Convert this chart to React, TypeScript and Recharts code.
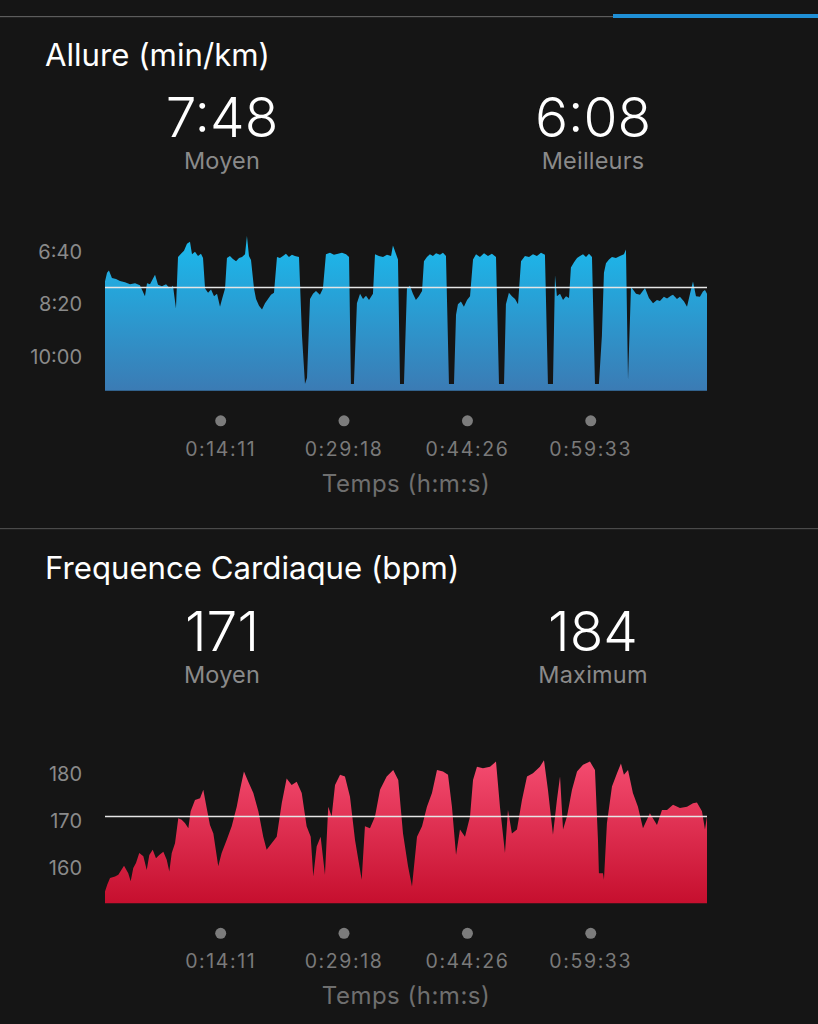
import { AreaChart, Area, XAxis, YAxis, ReferenceLine } from 'recharts'

const FONT = 'Inter, Roboto, "Liberation Sans", sans-serif'

// pace in seconds per km, sampled along elapsed time (s)
const paceTime = [
  0, 15, 29, 51, 81, 110, 147, 184, 221, 257, 294, 309, 331, 368, 390, 419, 449, 478, 500, 522,
  537, 559, 581, 603, 625, 640, 662, 684, 706, 721,
  736, 758, 780, 802, 824, 846, 861, 883,
  897, 919, 941, 964, 986, 1008, 1030, 1044, 1059, 1074,
  1096, 1111, 1133, 1155, 1177, 1199, 1221, 1243,
  1265, 1287, 1309, 1331, 1353, 1375, 1397, 1427,
  1449, 1471, 1486,
  1508, 1530, 1552, 1581, 1603,
  1625, 1655, 1684, 1714, 1743, 1773, 1795,
  1809, 1831,
  1853, 1876, 1898, 1920, 1942, 1971,
  1986, 2015, 2045, 2074, 2104, 2118, 2140, 2155,
  2170, 2199,
  2221, 2243, 2265, 2287, 2309, 2332,
  2346, 2368, 2390, 2412, 2435, 2464, 2486, 2508,
  2530, 2567,
  2582, 2596, 2618, 2640, 2663, 2685,
  2707, 2729, 2758, 2788, 2817, 2846, 2876,
  2898, 2935,
  2949, 2971, 2993, 3016, 3038,
  3060, 3089, 3119, 3148, 3177, 3207, 3236,
  3258, 3295,
  3310, 3324, 3347, 3369, 3391, 3413,
  3427, 3450, 3472, 3494, 3516, 3538, 3560, 3582,
  3604, 3633, 3655, 3670,
  3685, 3707, 3729, 3758, 3788, 3817, 3832,
  3847,
  3869, 3906, 3935, 3972, 4001, 4031, 4060, 4082, 4111, 4134, 4163, 4178, 4207, 4229, 4259, 4281,
  4303, 4325, 4347, 4376, 4398, 4413, 4428,
]
const paceValues = [
  457, 440, 436, 450, 452, 456, 458, 462, 460, 464, 485, 460, 462, 444, 463, 466, 462, 470, 465, 508,
  410, 404, 398, 385, 381, 405, 400, 408, 404, 412,
  470, 478, 472, 485, 480, 505, 490, 470,
  412, 408, 414, 418, 412, 410, 405, 370, 408, 416,
  470, 490, 503, 510, 498, 490, 482, 478,
  410, 412, 408, 404, 410, 406, 408, 410,
  560, 652, 640,
  490, 480, 475, 482, 470,
  405, 402, 406, 404, 402, 405, 410,
  652, 652,
  498, 480, 490, 484, 492, 480,
  405, 408, 410, 406, 408, 388, 404, 415,
  652, 652,
  470, 465, 480, 492, 485, 475,
  418, 410, 405, 408, 403, 406, 402, 408,
  652, 652,
  520, 500, 495, 505, 492, 485,
  415, 405, 410, 403, 408, 404, 410,
  652, 652,
  500, 478, 485, 490, 500,
  418, 408, 410, 405, 408, 402, 406,
  652, 652,
  445, 485, 480, 492, 485, 488,
  430, 420, 412, 408, 405, 410, 404, 410,
  652, 652, 560, 440,
  422, 415, 410, 412, 408, 405, 396,
  645,
  467, 480, 482, 469, 488, 498, 492, 494, 486, 489, 484, 482, 490, 486, 495, 505,
  480, 457, 485, 486, 476, 473, 480,
]

// heart rate in bpm
const hrTime = [
  0, 17, 37, 74, 98, 140, 171, 189, 208, 228, 252, 282, 307, 326, 351, 375, 399, 429, 454, 473,
  491, 515, 539, 564, 588, 613, 630, 662, 699, 723, 748, 772, 797, 833, 858, 895, 932, 969, 993, 1022,
  1054, 1091, 1128, 1164, 1189, 1226, 1263, 1300, 1336, 1373, 1410, 1447, 1483, 1513, 1532, 1557, 1586,
  1618, 1642, 1667, 1692, 1729, 1765, 1802, 1839, 1888, 1912, 1949, 1986, 2023, 2072, 2120, 2157,
  2192, 2229, 2258, 2295, 2332, 2368, 2405, 2442, 2486, 2523, 2552, 2582, 2611, 2648, 2685, 2707,
  2736, 2780, 2832, 2876, 2905, 2942, 2964, 2993, 3030, 3067, 3104, 3148, 3199, 3229, 3258, 3295,
  3324, 3347, 3369, 3398, 3435, 3472, 3516, 3567, 3604, 3626, 3633, 3663, 3670, 3692, 3729, 3766,
  3795, 3817, 3847, 3883, 3920, 3957, 4008, 4060, 4097, 4134, 4178, 4229, 4281, 4325, 4354, 4391,
  4413, 4428,
]
const hrValues = [
  155, 156.5, 157.9, 158.2, 158.6, 160.5, 158.9, 157.2, 160, 161.1, 163.2, 162.5, 159.6, 162.8, 163.9,
  162.1, 162.8, 163.5, 161.8, 159.3, 163.2, 165.3, 170.6, 170.3, 169.6, 168.5, 172.1, 174.5, 174.9,
  176.7, 172.8, 169.2, 167.4, 160.4, 163.2, 166, 168.9, 173.1, 176.7, 180.6, 178.4, 176, 172.1, 166.7,
  163.9, 165.3, 166.7, 173.8, 179.1, 177.7, 178.4, 176, 168.9, 166.7, 158.2, 164.6, 166.7, 158.6,
  173.1, 171, 177.7, 179.9, 179.5, 175.2, 166, 157.5, 168.9, 168.5, 171, 176.7, 179.5, 180.9, 178.8,
  167.4, 160.4, 156.1, 166.7, 168.9, 173.1, 176, 180.9, 180.6, 179.9, 173.1, 162.8, 168.2, 166.7, 171,
  178.8, 181.6, 181.3, 181.6, 182.7, 173.1, 163.2, 172.4, 167.4, 168.2, 174.5, 179.5, 180.2, 181.6,
  183, 176.7, 167.1, 174.5, 179.5, 168.2, 171, 176.7, 180.6, 182, 182.7, 180.9, 166, 158.9, 158.9,
  157.5, 169.6, 177.4, 180.2, 182.3, 179.9, 180.9, 176, 173.1, 168.5, 171.7, 169.2, 172.4, 172.4,
  173.5, 172.8, 173.1, 173.8, 174, 172.1, 168.2, 171,
]

const timeTicks = [851, 1758, 2666, 3573]
const paceTicks = [400, 500, 600]
const hrTicks = [160, 170, 180]
const PACE_AVG = 468
const HR_AVG = 171

const paceData = paceTime.map((t, i) => ({ t, pace: paceValues[i] }))
const hrData = hrTime.map((t, i) => ({ t, hr: hrValues[i] }))

const pad = (n: number) => String(n).padStart(2, '0')
const fmtPace = (v: number) => `${Math.floor(v / 60)}:${pad(v % 60)}`
const fmtTime = (v: number) => `${Math.floor(v / 3600)}:${pad(Math.floor((v % 3600) / 60))}:${pad(v % 60)}`

const TimeTick = (props: any) => {
  const { x, y, payload } = props
  return (
    <g>
      <circle cx={x} cy={y + 22} r={5.5} fill="#7c7c7c" />
      <text x={x} y={y + 57} textAnchor="middle" fill="#7a7a7a" fontSize={19.5} letterSpacing={1.6}>
        {fmtTime(payload.value)}
      </text>
    </g>
  )
}

const axisLabel = { value: 'Temps (h:m:s)', position: 'insideBottom' as const, offset: 9, fill: '#6f6f6f', fontSize: 24, letterSpacing: 0.5 }

function Stat({ x, y, value, label }: { x: number; y: number; value: string; label: string }) {
  return (
    <g textAnchor="middle">
      <text x={x} y={y} fill="#ffffff" fontSize={55} fontWeight={300}>{value}</text>
      <text x={x} y={y + 32} fill="#8a8a8a" fontSize={23.5} letterSpacing={0.2}>{label}</text>
    </g>
  )
}

export default function App() {
  return (
    <div style={{ position: 'absolute', left: 0, top: 0, width: 818, height: 1024, background: '#151515', overflow: 'hidden', fontFamily: FONT }}>
      <svg width={818} height={1024} style={{ position: 'absolute', left: 0, top: 0 }} fontFamily={FONT}>
        <rect x={0} y={16} width={613} height={1.2} fill="#5c5c5c" />
        <rect x={613} y={14} width={205} height={4} fill="#1f8fd6" />
        <rect x={0} y={528} width={818} height={1.2} fill="#4a4a4a" />

        <text x={45} y={66} fill="#ffffff" fontSize={31.2}>Allure (min/km)</text>
        <Stat x={222} y={137} value="7:48" label="Moyen" />
        <Stat x={593} y={137} value="6:08" label="Meilleurs" />

        <text x={45} y={579} fill="#ffffff" fontSize={31.2}>Frequence Cardiaque (bpm)</text>
        <Stat x={222} y={651} value="171" label="Moyen" />
        <Stat x={593} y={651} value="184" label="Maximum" />
      </svg>

      <div style={{ position: 'absolute', left: 0, top: 200 }}>
        <AreaChart width={818} height={310} data={paceData} margin={{ top: 25.45, right: 111, bottom: 9.2, left: 0 }}>
          <defs>
            <linearGradient id="paceFill" x1="0" y1="0" x2="0" y2="1">
              <stop offset="0%" stopColor="#1abbee" />
              <stop offset="100%" stopColor="#3b7bb4" />
            </linearGradient>
          </defs>
          <XAxis dataKey="t" type="number" domain={[0, 4428]} ticks={timeTicks} tick={<TimeTick />} tickLine={false} axisLine={false} height={110} label={axisLabel} />
          <YAxis type="number" reversed domain={[350, 665]} ticks={paceTicks} tickFormatter={fmtPace} width={105} tickLine={false} axisLine={false} tickMargin={17} tick={{ fill: '#8a8a8a', fontSize: 20 }} />
          <Area type="linear" dataKey="pace" baseValue="dataMax" stroke="none" fill="url(#paceFill)" fillOpacity={1} isAnimationActive={false} />
          <ReferenceLine y={PACE_AVG} stroke="#e6e6e6" strokeWidth={1.5} />
        </AreaChart>
      </div>

      <div style={{ position: 'absolute', left: 0, top: 710 }}>
        <AreaChart width={818} height={310} data={hrData} margin={{ top: 26.7, right: 111, bottom: 6.7, left: 0 }}>
          <defs>
            <linearGradient id="hrFill" x1="0" y1="0" x2="0" y2="1">
              <stop offset="0%" stopColor="#f44c70" />
              <stop offset="100%" stopColor="#c60f2e" />
            </linearGradient>
          </defs>
          <XAxis dataKey="t" type="number" domain={[0, 4428]} ticks={timeTicks} tick={<TimeTick />} tickLine={false} axisLine={false} height={110} label={axisLabel} />
          <YAxis type="number" domain={[152.5, 188]} ticks={hrTicks} width={105} tickLine={false} axisLine={false} tickMargin={17} tick={{ fill: '#8a8a8a', fontSize: 20 }} />
          <Area type="linear" dataKey="hr" baseValue="dataMin" stroke="none" fill="url(#hrFill)" fillOpacity={1} isAnimationActive={false} />
          <ReferenceLine y={HR_AVG} stroke="#e6e6e6" strokeWidth={1.5} />
        </AreaChart>
      </div>
    </div>
  )
}
